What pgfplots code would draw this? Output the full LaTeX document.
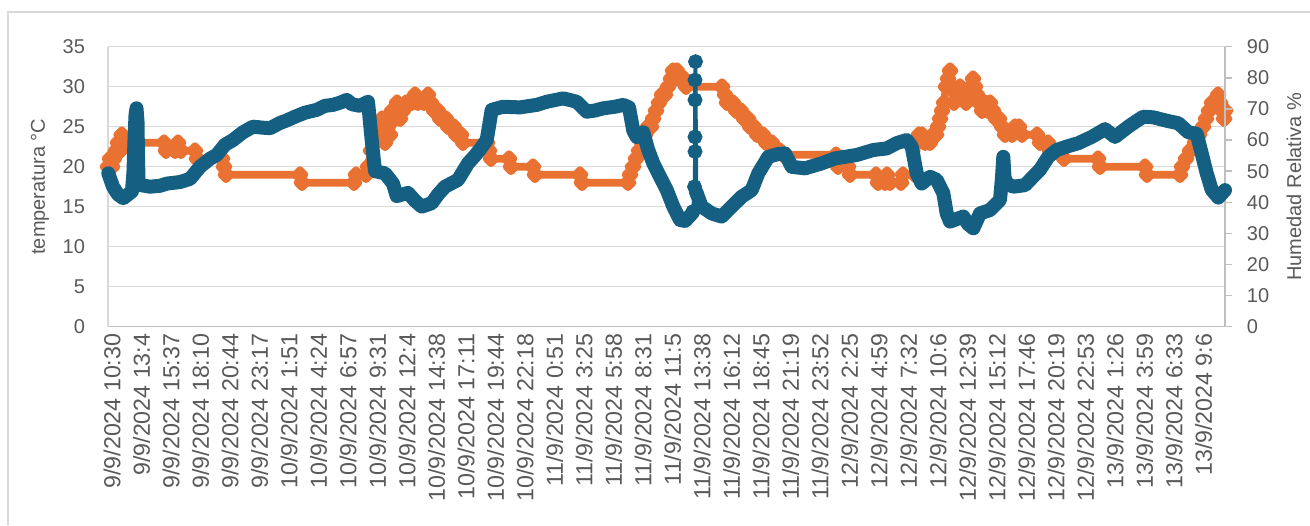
\documentclass[border=0pt]{standalone}
\usepackage{fontspec}
\setmainfont{Liberation Sans}
\usepackage{pgfplots}
\usepackage{pgfplotstable}
\pgfplotsset{compat=1.18}
\definecolor{hum}{HTML}{156082}
\definecolor{tem}{HTML}{E97132}
\definecolor{txt}{HTML}{595959}
\definecolor{grd}{HTML}{D9D9D9}
\definecolor{axl}{HTML}{BFBFBF}

\pgfplotstableread{
x T
0 20
2 21
4 20
6 21
8 22
10 23
12 22
13.7 24
16 23
56 23
58 22
67 22
70 23
73 22
87 22
89 21
114 21
116 20
118 19
192 19
194 18
246 18
248 19
258 19
260 20
263 22
266 23
269 25
272 24
274 26
277 23
280 25
282 24
284 27
287 26
289 28
292 26
295 27
298 28
304 28
307 29
310 28
316 28
320 29
323 28
326 27
330 27
332 26
338 26
340 25
346 25
348 24
353 24
355 23
379 23
381 22
383 21
401 21
403 20
425 20
427 19
472 19
474 18
520 18
522 19
525 20
528 21
531 22
534 23
537 24
540 25
543 25
545 26
548 27
551 28
554 29
557 29
560 30
563 31
565 32
569 32
571 31
576 31
578 30
614 30
617 29
619 28
625 28
628 27
633 27
636 26
640 26
642 25
646 25
649 24
655 24
658 23
664 23
667 22
672 22
675 21.5
728 21.5
730 20
740 20
742 19
768 19
770 18
777 18
779 19
782 18
793 18
795 19
807 19
809 23
811 24
814 24
817 23
822 23
825 24
828 24
830 25
832 26
834 27
836 28
838 30
840 31
842 32
844 30
846 28
849 29
852 30
855 29
858 28
861 29
863 30
865 31
867 30
869 29
871 28
874 27
877 28
880 27
882 28
885 27
888 26
891 26
894 25
897 24
904 24
907 25
911 25
914 24
929 24
932 23
940 23
942 22
954 22
956 21
990 21
992 20
1037 20
1039 19
1072 19
1074 20
1078 21
1082 22
1087 23
1091 24
1095 25
1098 26
1101 27
1104 28
1107 28
1110 29
1112 28
1114 27
1116 26
1117 27
}\temptab

\pgfplotstableread{
x H
0.3 49.3
5 45
10 42.5
15.3 41.3
20 42.5
24 43.5
25.5 50
26.5 60
27.5 68
28.5 70.2
29.5 66
30 55
30.5 47
33 45.5
42 45
52 45.3
59 46
72 46.5
82 47.5
92 51.4
102 54
108.7 55.2
117 58.5
125 60
135 62.5
145 64.3
154 64
162 63.8
172 65.5
178.7 66.3
187 67.5
197 68.8
208.7 69.7
217 71
225 71.3
232 72
238.7 72.9
244 71.5
252 71
260 72.3
263.7 60
267 50
277 49.3
285 46
288.7 42
300 43
307 40.5
313.7 38.6
323.7 39.7
330 42.5
337 45
350 47.2
360 52.5
367 55
372 57
378.7 60
383.7 69.7
395 70.7
412 70.5
428.7 71.3
438.7 72.3
455.3 73.4
468.7 72.3
478.7 69.1
487 69.5
495.3 70.2
507 70.7
515.3 71.3
521 70.5
525.3 63
528.7 61
535.3 62.5
540 57
545.3 52.5
552 48.2
558.7 44
565.3 38.6
572 34.3
577 34
583 36
585 37
}\humA

\pgfplotstableread{
x H
585 37
586.5 45
587 56.3
587 61
587 72.9
587 79.3
587.5 85.2
588.5 43
}\humS

\pgfplotstableread{
x H
588.5 43
593.7 38.6
603.7 36.4
613.7 35.4
623.7 38.6
633.7 41.8
643.7 43.9
650.3 49.3
660.3 54.6
670 55.5
677 55.7
683.7 51.4
697 50.9
713.7 52.5
727 54.1
737 54.6
748.7 55.2
765.3 56.8
778.7 57.3
788.7 59
798.7 60
803.7 57.9
808.7 49.3
813.7 46
822 48.2
828.7 47.2
835.3 42.9
838.7 36.4
842 33.8
855.3 35.4
860 33
865.3 31.6
872 36.4
882 37.5
892 40.7
894 48
895.3 54.6
896.5 48
898.7 46
905.3 45
917 45.5
925 48.2
932 50.5
940.3 54.6
948.7 56.8
958.7 57.9
970.3 59
983.7 61
997 63.5
1007 61
1020.3 64.3
1028 66
1035.3 67.5
1045.3 67.3
1058.7 66.2
1070.3 65.4
1080.3 62.5
1088.7 62
1093.7 55.7
1098.7 49.3
1103.7 44
1110.3 41.5
1117 43.9
}\humB

\begin{document}
\begin{tikzpicture}
\path[use as bounding box] (0,0) rectangle (655pt,262.5pt);
\draw[grd, line width=0.75pt] (4pt,0) -- (4pt,256.5pt) -- (655pt,256.5pt);
\pgfplotsset{
  base/.style={
    at={(54pt,99.15pt)}, anchor=south west,
    scale only axis, width=558.5pt, height=140pt,
    xmin=0, xmax=1117,
    /pgf/number format/assume math mode=true,
    tick label style={font=\fontsize{10}{12}\selectfont, text=txt},
    label style={font=\fontsize{10}{12}\selectfont, text=txt},
    clip=false,
  }
}
\begin{axis}[base,
  ymin=0, ymax=35, ytick={0,5,...,35},
  axis x line*=bottom, axis y line*=left,
  x axis line style={axl, line width=0.75pt, -},
  y axis line style={grd, line width=0.75pt, -},
  major tick length=0pt,
  ymajorgrids, grid style={grd, line width=0.75pt},
  xtick={0,29.5,...,1091.5},
  xticklabels={9/9/2024 10:30, 9/9/2024 13:4, 9/9/2024 15:37, 9/9/2024 18:10, 9/9/2024 20:44, 9/9/2024 23:17, 10/9/2024 1:51, 10/9/2024 4:24, 10/9/2024 6:57, 10/9/2024 9:31, 10/9/2024 12:4, 10/9/2024 14:38, 10/9/2024 17:11, 10/9/2024 19:44, 10/9/2024 22:18, 11/9/2024 0:51, 11/9/2024 3:25, 11/9/2024 5:58, 11/9/2024 8:31, 11/9/2024 11:5, 11/9/2024 13:38, 11/9/2024 16:12, 11/9/2024 18:45, 11/9/2024 21:19, 11/9/2024 23:52, 12/9/2024 2:25, 12/9/2024 4:59, 12/9/2024 7:32, 12/9/2024 10:6, 12/9/2024 12:39, 12/9/2024 15:12, 12/9/2024 17:46, 12/9/2024 20:19, 12/9/2024 22:53, 13/9/2024 1:26, 13/9/2024 3:59, 13/9/2024 6:33, 13/9/2024 9:6},
  xticklabel style={rotate=90, anchor=east, yshift=-2pt, font=\fontsize{11.6}{13}\selectfont},
  yticklabel style={xshift=-8pt},
  ylabel={temperatura °C},
  ylabel style={at={(axis description cs:-0.0609,0.5)}, anchor=center, rotate=0},
]
\addplot[tem, line width=3.8pt, line join=round, mark=square*, mark size=1.6pt, mark options={rotate=45, solid, fill=tem, draw=none}] table[x=x,y=T] {\temptab};
\end{axis}
\begin{axis}[base,
  ymin=0, ymax=90, ytick={0,10,...,90},
  axis x line=none, axis y line*=right,
  y axis line style={axl, line width=0.75pt, -},
  ytick style={axl, line width=0.75pt},
  tick align=outside, major tick length=3.4pt,
  yticklabel style={anchor=west, xshift=4pt},
  ylabel={Humedad Relativa \%},
  ylabel style={at={(axis description cs:1.0618,0.5)}, anchor=center, rotate=0},
]
\addplot[hum, line width=7pt, line join=round, line cap=round] table[x=x,y=H] {\humA};
\addplot[hum, line width=7pt, line join=round, line cap=round] table[x=x,y=H] {\humB};
\addplot[hum, line width=1.8pt, mark=*, mark size=2.8pt, mark options={fill=hum, draw=none}] table[x=x,y=H] {\humS};
\end{axis}
\end{tikzpicture}
\end{document}
